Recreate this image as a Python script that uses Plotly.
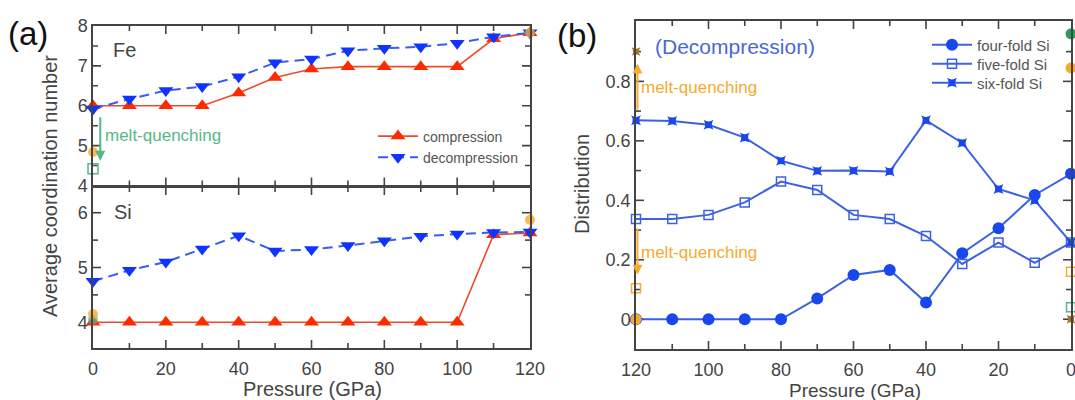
import plotly.graph_objects as go

FONT = "Liberation Sans"
GRAY = "#444"

# ---------------- data ----------------
pressure = [0, 10, 20, 30, 40, 50, 60, 70, 80, 90, 100, 110, 120]

fe_compression = [6.0, 6.0, 6.0, 6.0, 6.32, 6.71, 6.92, 6.98, 6.98, 6.98, 6.98, 7.68, 7.83]
fe_decompression = [5.92, 6.17, 6.38, 6.48, 6.73, 7.08, 7.17, 7.38, 7.44, 7.48, 7.57, 7.73, 7.83]
si_compression = [4.0, 4.0, 4.0, 4.0, 4.0, 4.0, 4.0, 4.0, 4.0, 4.0, 4.0, 5.6, 5.63]
si_decompression = [4.75, 4.95, 5.10, 5.34, 5.58, 5.30, 5.33, 5.40, 5.49, 5.57, 5.61, 5.64, 5.65]

# melt-quenched reference points (a)
fe_mq_orange_x = [0, 120]
fe_mq_orange_y = [4.84, 7.83]
fe_mq_green_x = [0]
fe_mq_green_y = [4.42]
si_mq_orange_x = [0, 120]
si_mq_orange_y = [4.15, 5.87]
si_mq_green_x = [0]
si_mq_green_y = [4.05]

# (b) decompression distribution
four_fold = [0.489, 0.418, 0.306, 0.222, 0.056, 0.166, 0.149, 0.07, 0.0, 0.0, 0.0, 0.0, 0.0]
five_fold = [0.258, 0.19, 0.258, 0.186, 0.280, 0.337, 0.351, 0.435, 0.463, 0.393, 0.351, 0.337, 0.337]
six_fold = [0.258, 0.40, 0.438, 0.593, 0.669, 0.497, 0.50, 0.499, 0.533, 0.611, 0.654, 0.667, 0.669]

# (b) melt-quenched reference points
b_orange_circle_x = [0, 120]
b_orange_circle_y = [0.845, 0.0]
b_orange_square_x = [0, 120]
b_orange_square_y = [0.16, 0.104]
b_orange_star_x = [0, 120]
b_orange_star_y = [0.0, 0.9]
b_green_circle_x = [0]
b_green_circle_y = [0.96]
b_green_square_x = [0]
b_green_square_y = [0.04]

# axis ranges / tick positions
p_range = [0, 120]
fe_range = [4, 8]
si_range = [3.53, 6.47]
dist_range = [-0.1, 1.003]
p_major = [0, 20, 40, 60, 80, 100, 120]
p_minor = [10, 30, 50, 70, 90, 110]
fe_major = [5, 6, 7]
fe_minor = [4.5, 5.5, 6.5, 7.5]
si_major = [4, 5, 6]
si_minor = [4.5, 5.5]
dist_major = [0, 0.2, 0.4, 0.6, 0.8]
dist_minor = [0.1, 0.3, 0.5, 0.7, 0.9]
dist_labels = ["0", "0.2", "0.4", "0.6", "0.8"]

# ---------------- colours ----------------
RED = "#ff2a00"
RED_LINE = "#f04a2a"
BLUE_A = "#1034ff"
BLUE_A_LINE = "#3a5cf0"
BLUE_B = "#1a46ee"
BLUE_B_LINE = "#3c62e2"
GREEN = "#55b888"
ORANGE = "#f5aa30"
DARK_ORANGE = "#a8741a"

W, H = 1075, 400

# plot-area pixel boxes (left, right, top, bottom)
BOX_A = (93, 530)
BOX_FE = (26, 185.5)
BOX_SI = (187, 348)
BOX_B = (636, 1071)
BOX_BY = (21, 349)


def px(x):
    return x / W


def py(y):
    return 1 - y / H


fig = go.Figure()


# ---- inward tick marks, drawn as thin line traces along each frame ----
def tick_trace(xa, ya, xr, yr, xbox, ybox, xmaj, xmin, ymaj, ymin):
    ux = (xr[1] - xr[0]) / (xbox[1] - xbox[0])   # data units per pixel
    uy = (yr[1] - yr[0]) / (ybox[1] - ybox[0])
    xs, ys = [], []
    for vals, L in ((xmaj, 8), (xmin, 5)):
        for v in vals:
            xs += [v, v, None, v, v, None]
            ys += [yr[0], yr[0] + L * uy, None, yr[1], yr[1] - L * uy, None]
    for vals, L in ((ymaj, 8), (ymin, 5)):
        for v in vals:
            xs += [xr[0], xr[0] + L * ux, None, xr[1], xr[1] - L * ux, None]
            ys += [v, v, None, v, v, None]
    fig.add_trace(go.Scatter(x=xs, y=ys, mode="lines", line=dict(color=GRAY, width=1.6),
                             showlegend=False, hoverinfo="skip", xaxis=xa, yaxis=ya,
                             connectgaps=False))


tick_trace("x", "y", p_range, fe_range, BOX_A, BOX_FE, p_major[1:-1], p_minor, fe_major, fe_minor)
tick_trace("x2", "y2", p_range, si_range, BOX_A, BOX_SI, p_major[1:-1], p_minor, si_major[1:], si_minor)
tick_trace("x3", "y3", p_range[::-1], dist_range, BOX_B, BOX_BY, p_major[1:-1], p_minor, dist_major, dist_minor)

# ---- (a) Fe ----
fig.add_trace(go.Scatter(x=pressure, y=fe_compression, mode="lines+markers", name="compression",
                         line=dict(color=RED_LINE, width=1.6),
                         marker=dict(symbol="triangle-up", size=13, color=RED),
                         xaxis="x", yaxis="y", cliponaxis=False, legend="legend"))
fig.add_trace(go.Scatter(x=pressure, y=fe_decompression, mode="lines+markers", name="decompression",
                         line=dict(color=BLUE_A_LINE, width=2, dash="10px,6px"),
                         marker=dict(symbol="triangle-down", size=13, color=BLUE_A),
                         xaxis="x", yaxis="y", cliponaxis=False, legend="legend"))
fig.add_trace(go.Scatter(x=fe_mq_orange_x, y=fe_mq_orange_y, mode="markers", showlegend=False,
                         marker=dict(symbol="circle", size=10, color=ORANGE, opacity=0.8),
                         xaxis="x", yaxis="y", cliponaxis=False))
fig.add_trace(go.Scatter(x=fe_mq_green_x, y=fe_mq_green_y, mode="markers", showlegend=False,
                         marker=dict(symbol="square-open", size=10, color=GREEN, line=dict(width=1.5)),
                         xaxis="x", yaxis="y", cliponaxis=False))

# ---- (a) Si ----
fig.add_trace(go.Scatter(x=pressure, y=si_compression, mode="lines+markers", showlegend=False,
                         line=dict(color=RED_LINE, width=1.6),
                         marker=dict(symbol="triangle-up", size=13, color=RED),
                         xaxis="x2", yaxis="y2", cliponaxis=False))
fig.add_trace(go.Scatter(x=pressure, y=si_decompression, mode="lines+markers", showlegend=False,
                         line=dict(color=BLUE_A_LINE, width=2, dash="10px,6px"),
                         marker=dict(symbol="triangle-down", size=13, color=BLUE_A),
                         xaxis="x2", yaxis="y2", cliponaxis=False))
fig.add_trace(go.Scatter(x=si_mq_green_x, y=si_mq_green_y, mode="markers", showlegend=False,
                         marker=dict(symbol="circle", size=10, color=GREEN, opacity=0.7),
                         xaxis="x2", yaxis="y2", cliponaxis=False))
fig.add_trace(go.Scatter(x=si_mq_orange_x, y=si_mq_orange_y, mode="markers", showlegend=False,
                         marker=dict(symbol="circle", size=10, color=ORANGE, opacity=0.8),
                         xaxis="x2", yaxis="y2", cliponaxis=False))

# ---- (b) ----
fig.add_trace(go.Scatter(x=pressure, y=four_fold, mode="lines+markers", name="four-fold Si",
                         line=dict(color=BLUE_B_LINE, width=2),
                         marker=dict(symbol="circle", size=12, color=BLUE_B),
                         xaxis="x3", yaxis="y3", cliponaxis=False, legend="legend2"))
fig.add_trace(go.Scatter(x=pressure, y=five_fold, mode="lines+markers", name="five-fold Si",
                         line=dict(color=BLUE_B_LINE, width=2),
                         marker=dict(symbol="square-open", size=9, color=BLUE_B_LINE, line=dict(width=1.5)),
                         xaxis="x3", yaxis="y3", cliponaxis=False, legend="legend3"))
fig.add_trace(go.Scatter(x=pressure, y=six_fold, mode="lines+markers", name="six-fold Si",
                         line=dict(color=BLUE_B_LINE, width=2),
                         marker=dict(symbol="star-square", size=9, color=BLUE_B),
                         xaxis="x3", yaxis="y3", cliponaxis=False, legend="legend4"))
fig.add_trace(go.Scatter(x=b_orange_circle_x, y=b_orange_circle_y, mode="markers", showlegend=False,
                         marker=dict(symbol="circle", size=11, color=ORANGE),
                         xaxis="x3", yaxis="y3", cliponaxis=False))
fig.add_trace(go.Scatter(x=b_orange_square_x, y=b_orange_square_y, mode="markers", showlegend=False,
                         marker=dict(symbol="square-open", size=9, color=ORANGE, line=dict(width=1.5)),
                         xaxis="x3", yaxis="y3", cliponaxis=False))
fig.add_trace(go.Scatter(x=b_orange_star_x, y=b_orange_star_y, mode="markers", showlegend=False,
                         marker=dict(symbol="star-square", size=8, color=DARK_ORANGE),
                         xaxis="x3", yaxis="y3", cliponaxis=False))
fig.add_trace(go.Scatter(x=b_green_circle_x, y=b_green_circle_y, mode="markers", showlegend=False,
                         marker=dict(symbol="circle", size=11, color="#2e9a60"),
                         xaxis="x3", yaxis="y3", cliponaxis=False))
fig.add_trace(go.Scatter(x=b_green_square_x, y=b_green_square_y, mode="markers", showlegend=False,
                         marker=dict(symbol="square-open", size=9, color=GREEN, line=dict(width=1.5)),
                         xaxis="x3", yaxis="y3", cliponaxis=False))


def main_axis(**kw):
    base = dict(showline=True, linecolor=GRAY, linewidth=1.5, mirror=True,
                ticks="", showgrid=False, zeroline=False, automargin=False,
                tickfont=dict(family=FONT, size=18, color=GRAY))
    base.update(kw)
    return base


XA = [px(BOX_A[0]), px(BOX_A[1])]
XB = [px(BOX_B[0]), px(BOX_B[1])]
YFE = [py(BOX_FE[1]), py(BOX_FE[0])]
YSI = [py(BOX_SI[1]), py(BOX_SI[0])]
YB = [py(BOX_BY[1]), py(BOX_BY[0])]


def leg(x, y, size=15):
    return dict(x=px(x), y=py(y), xanchor="left", yanchor="middle", bgcolor="rgba(0,0,0,0)",
                font=dict(family=FONT, size=size, color="#555"), itemwidth=40, tracegroupgap=0)


fig.update_layout(
    template="none",
    width=W, height=H,
    margin=dict(l=0, r=0, t=0, b=0, autoexpand=False),
    paper_bgcolor="white", plot_bgcolor="white",
    font=dict(family=FONT, color=GRAY),
    xaxis=main_axis(domain=XA, range=p_range, anchor="y", tickvals=p_major, showticklabels=False),
    yaxis=main_axis(domain=YFE, range=fe_range, anchor="x", tickvals=[4, 5, 6, 7, 8]),
    xaxis2=main_axis(domain=XA, range=p_range, anchor="y2", tickvals=p_major, ticklabelstandoff=4),
    yaxis2=main_axis(domain=YSI, range=si_range, anchor="x2", tickvals=si_major),
    xaxis3=main_axis(domain=XB, range=p_range[::-1], anchor="y3", ticklabeloverflow="allow",
                     tickvals=p_major, ticklabelstandoff=4),
    yaxis3=main_axis(domain=YB, range=dist_range, anchor="x3", tickvals=dist_major, ticktext=dist_labels),
    legend=leg(373, 147, 14),
    legend2=leg(927, 45),
    legend3=leg(927, 64),
    legend4=leg(927, 83),
)

ann = []


def text(x, y, s, size, color=GRAY, xanchor="left", angle=0):
    ann.append(dict(x=px(x), y=py(y), xref="paper", yref="paper", text=s, showarrow=False,
                    xanchor=xanchor, yanchor="middle", textangle=angle,
                    font=dict(family=FONT, size=size, color=color)))


text(6, 33, "(a)", 33, color="#111")
text(555, 35, "(b)", 33, color="#111")
text(111, 50, "Fe", 20)
text(112, 212, "Si", 20)
text(103, 135, "melt-quenching", 17, color=GREEN)
text(653, 47, "(Decompression)", 21, color="#4a68d8")
text(639, 88, "melt-quenching", 17, color=ORANGE)
text(639, 253, "melt-quenching", 17, color=ORANGE)
text(50, 186, "Average coordination number", 20, xanchor="center", angle=-90)
text(312, 389, "Pressure (GPa)", 20, xanchor="center")
text(855, 390, "Pressure (GPa)", 19, xanchor="center")
text(582, 184, "Distribution", 20, xanchor="center", angle=-90)

# arrows
ann.append(dict(x=2, y=4.62, ax=2, ay=5.75, xref="x", yref="y", axref="x", ayref="y",
                showarrow=True, arrowhead=2, arrowsize=1, arrowwidth=2, arrowcolor=GREEN, text=""))
ann.append(dict(x=119.6, y=0.86, ax=119.6, ay=0.70, xref="x3", yref="y3", axref="x3", ayref="y3",
                showarrow=True, arrowhead=2, arrowsize=1, arrowwidth=2, arrowcolor=ORANGE, text=""))
ann.append(dict(x=119.6, y=0.15, ax=119.6, ay=0.31, xref="x3", yref="y3", axref="x3", ayref="y3",
                showarrow=True, arrowhead=2, arrowsize=1, arrowwidth=2, arrowcolor=ORANGE, text=""))

fig.update_layout(annotations=ann)

fig.write_html("out.html", config={"displayModeBar": False},
               post_script="document.body.style.margin='0px';")
